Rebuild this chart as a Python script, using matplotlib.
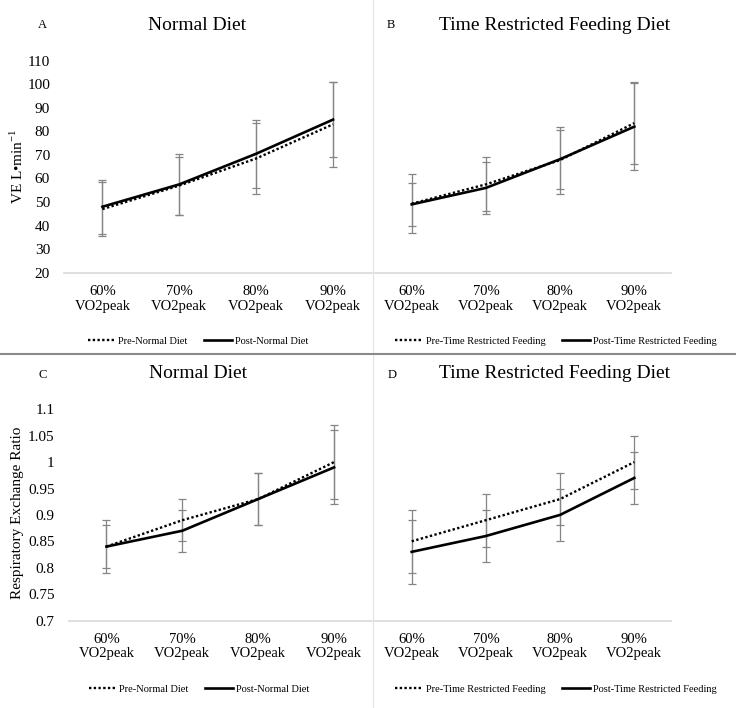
import matplotlib.pyplot as plt
from matplotlib.lines import Line2D

plt.rcParams["font.family"] = ["Liberation Serif", "DejaVu Serif"]
plt.rcParams["mathtext.fontset"] = "custom"
plt.rcParams["mathtext.rm"] = "Liberation Serif"

# ---- data ----
categories = ["60%\nVO2peak", "70%\nVO2peak", "80%\nVO2peak", "90%\nVO2peak"]

ve_pre_normal = [47, 57, 68.5, 83]
ve_pre_normal_err = [11.5, 12.3, 15, 18]
ve_post_normal = [48, 57.5, 70.5, 85]
ve_post_normal_err = [11.5, 13, 14.5, 16]

ve_pre_trf = [49.3, 57.5, 67.8, 83.5]
ve_pre_trf_err = [12.5, 11.5, 14.2, 17.3]
ve_post_trf = [49, 56, 68.2, 82]
ve_post_trf_err = [9, 11, 12.5, 18.5]

rer_pre_normal = [0.84, 0.89, 0.93, 1.00]
rer_pre_normal_err = [0.05, 0.04, 0.05, 0.07]
rer_post_normal = [0.84, 0.87, 0.93, 0.99]
rer_post_normal_err = [0.04, 0.04, 0.05, 0.07]

rer_pre_trf = [0.85, 0.89, 0.93, 1.00]
rer_pre_trf_err = [0.06, 0.05, 0.05, 0.05]
rer_post_trf = [0.83, 0.86, 0.90, 0.97]
rer_post_trf_err = [0.06, 0.05, 0.05, 0.05]

ve_ticks = list(range(20, 111, 10))
rer_ticks = [0.7, 0.75, 0.8, 0.85, 0.9, 0.95, 1.0, 1.05, 1.1]

# ---- layout (pixels) ----
W, H = 741, 708
fig = plt.figure(figsize=(W / 100, H / 100), dpi=100)

ERR_COLOR = "#858585"
AXIS_COLOR = "#d9d9d9"


def px_axes(left, top, right, bottom):
    return fig.add_axes([left / W, 1 - bottom / H, (right - left) / W, (bottom - top) / H])


def fx(x):
    return x / W


def fy(y):
    return 1 - y / H


def draw_panel(ax, pre, pre_err, post, post_err, ylim, yticks, show_y):
    x = range(len(categories))
    ax.errorbar(x, pre, yerr=pre_err, fmt="none", ecolor=ERR_COLOR, elinewidth=0.9,
                capsize=3.2, capthick=0.9, zorder=2)
    ax.errorbar(x, post, yerr=post_err, fmt="none", ecolor=ERR_COLOR, elinewidth=0.9,
                capsize=3.2, capthick=0.9, zorder=2)
    ax.plot(x, pre, color="black", linewidth=1.7, linestyle=(0, (1, 1)), zorder=3)
    ax.plot(x, post, color="black", linewidth=1.9, zorder=3)

    ax.set_xlim(-0.5, len(categories) - 0.5)
    ax.set_ylim(*ylim)
    ax.set_xticks(list(x))
    ax.set_xticklabels(categories, fontsize=10.5, linespacing=1.15)
    ax.set_yticks(yticks)
    if show_y:
        ax.set_yticklabels([f"{t:g}" for t in yticks], fontsize=11)
    else:
        ax.set_yticklabels([])
    ax.tick_params(axis="both", length=0)
    ax.tick_params(axis="x", pad=9)
    ax.tick_params(axis="y", pad=10)
    for side in ["top", "left", "right"]:
        ax.spines[side].set_visible(False)
    ax.spines["bottom"].set_color(AXIS_COLOR)
    ax.spines["bottom"].set_linewidth(1.2)
    ax.set_facecolor("none")


def panel_legend(cx, cy, pre_label, post_label):
    handles = [
        Line2D([], [], color="black", linewidth=1.7, linestyle=(0, (1, 1))),
        Line2D([], [], color="black", linewidth=1.9),
    ]
    fig.legend(handles, [pre_label, post_label], loc="center",
               bbox_to_anchor=(fx(cx), fy(cy)), ncol=2, frameon=False, fontsize=7.5,
               handlelength=2.7, handletextpad=0.25, columnspacing=1.6,
               borderpad=0, borderaxespad=0)


# separators
fig.add_artist(Line2D([fx(372.7), fx(372.7)], [0, 1], color="#e3e3e3", linewidth=0.8, zorder=0))
fig.add_artist(Line2D([0, fx(735)], [fy(354), fy(354)], color="#8a8a8a", linewidth=1.5, zorder=0))

# A: VE, normal diet
ax_a = px_axes(64, 60.7, 371.5, 272.7)
draw_panel(ax_a, ve_pre_normal, ve_pre_normal_err, ve_post_normal, ve_post_normal_err,
           (20, 110), ve_ticks, True)

# B: VE, time restricted feeding
ax_b = px_axes(374.6, 60.7, 671.4, 272.7)
draw_panel(ax_b, ve_pre_trf, ve_pre_trf_err, ve_post_trf, ve_post_trf_err,
           (20, 110), ve_ticks, False)

# C: RER, normal diet
ax_c = px_axes(68.5, 409.3, 372, 620.5)
draw_panel(ax_c, rer_pre_normal, rer_pre_normal_err, rer_post_normal, rer_post_normal_err,
           (0.7, 1.1), rer_ticks, True)

# D: RER, time restricted feeding
ax_d = px_axes(374.6, 409.3, 671.4, 620.5)
draw_panel(ax_d, rer_pre_trf, rer_pre_trf_err, rer_post_trf, rer_post_trf_err,
           (0.7, 1.1), rer_ticks, False)

# titles and panel letters
fig.text(fx(197), fy(25), "Normal Diet", fontsize=14, ha="center", va="center")
fig.text(fx(555), fy(25), "Time Restricted Feeding Diet", fontsize=14, ha="center", va="center")
fig.text(fx(198), fy(373.5), "Normal Diet", fontsize=14, ha="center", va="center")
fig.text(fx(555), fy(374), "Time Restricted Feeding Diet", fontsize=14, ha="center", va="center")

fig.text(fx(42), fy(25), "A", fontsize=9, ha="center", va="center")
fig.text(fx(391), fy(25), "B", fontsize=9, ha="center", va="center")
fig.text(fx(43), fy(375), "C", fontsize=9, ha="center", va="center")
fig.text(fx(392), fy(375), "D", fontsize=9, ha="center", va="center")

# y axis labels
fig.text(fx(17), fy(166), "VE L\u2022min$^{\\mathrm{-1}}$", fontsize=11, rotation=90,
         ha="center", va="center")
fig.text(fx(18), fy(513), "Respiratory Exchange Ratio", fontsize=11, rotation=90,
         ha="center", va="center")

# legends
panel_legend(198, 341, "Pre-Normal Diet", "Post-Normal Diet")
panel_legend(556, 341, "Pre-Time Restricted Feeding", "Post-Time Restricted Feeding")
panel_legend(199, 689, "Pre-Normal Diet", "Post-Normal Diet")
panel_legend(556, 689, "Pre-Time Restricted Feeding", "Post-Time Restricted Feeding")

fig.savefig("out.png", dpi=100)
